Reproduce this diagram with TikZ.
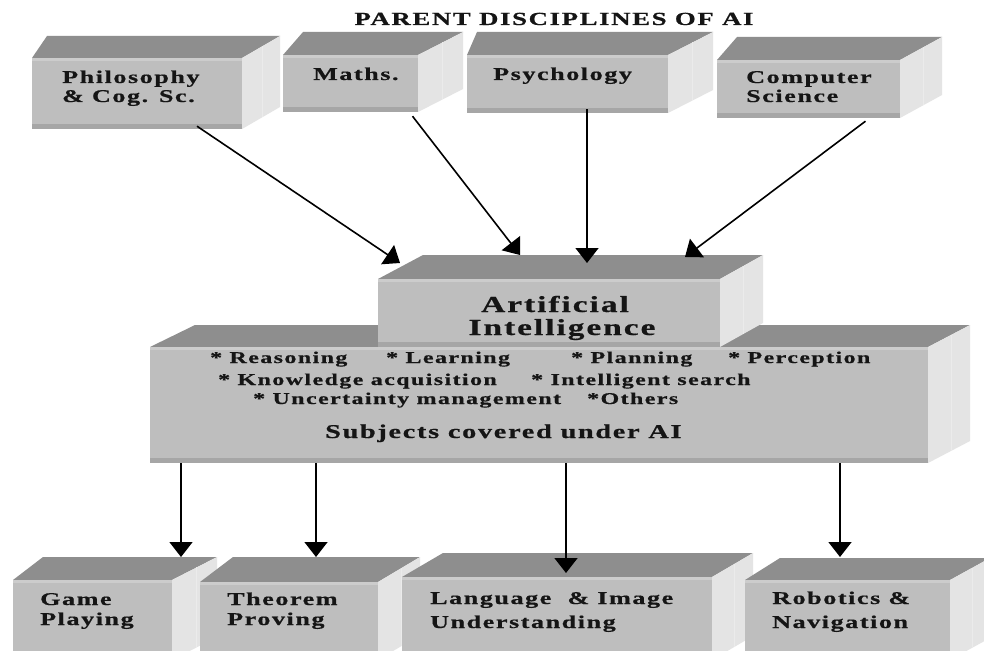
\documentclass[tikz,border=0pt]{standalone}
\usepackage{fontspec}
\newfontfamily\bxf[LetterSpace=6,BoldFeatures={FakeBold=0.5}]{Liberation Serif}
\usetikzlibrary{arrows.meta,fit,calc}
\definecolor{frc}{HTML}{BEBEBE}
\definecolor{topc}{HTML}{8E8E8E}
\definecolor{sidec}{HTML}{E4E4E4}
\definecolor{botc}{HTML}{A6A6A6}
\definecolor{hic}{HTML}{CCCCCC}
\definecolor{txt}{HTML}{151515}
\newcommand\sx[1]{\scalebox{1.45}[1]{#1}}
\tikzset{
  lbl/.style={anchor=base west, inner sep=0pt, text=txt, font=\bxf\bfseries\fontsize{18}{21}\selectfont},
  lst/.style={anchor=base west, inner sep=0pt, text=txt, font=\bxf\bfseries\fontsize{16.5}{19}\selectfont},
  ailbl/.style={anchor=base, inner sep=0pt, text=txt, font=\bxf\bfseries\fontsize{23}{27}\selectfont},
  arr/.style={line width=1.6pt, -{Triangle[width=23pt,length=15pt]}},
}
\newcommand\mycube[8]{%
  \fill[topc] ({#2},{#3}) -- ({#4},{#3}) -- ({#4+#7},{#3-#8}) -- ({#2+#6},{#3-#8}) -- cycle;
  \fill[sidec] ({#4},{#3}) -- ({#4+#7},{#3-#8}) -- ({#4+#7},{#5-#8}) -- ({#4},{#5}) -- cycle;
  \draw[white!92!black, line width=1pt] ({#4+0.55*#7},{#3-0.55*#8}) -- ({#4+0.55*#7},{#5-0.55*#8});
  \node[fit={({#2},{#3})({#4},{#5})}, inner sep=0pt, fill=frc] (#1) {};
  \fill[botc] ({#2},{#5-5}) rectangle ({#4},{#5});
  \fill[hic] ({#2},{#3}) rectangle ({#4},{#3+3});
}
\begin{document}
\begin{tikzpicture}[x=1pt,y=-1pt]
\useasboundingbox (0,0) rectangle (984,650);
\clip (0,0) rectangle (984,650);
\fill[white] (0,0) rectangle (984,650);

\node[anchor=base, inner sep=0pt, text=txt, font=\bxf\bfseries\fontsize{18.5}{22}\selectfont] (title) at (554,25) {\sx{PARENT DISCIPLINES OF AI}};

% top row
\mycube{phil}{32}{58}{242}{129}{15}{38}{22}
\mycube{maths}{283}{55}{418}{112}{20}{45}{23}
\mycube{psych}{467}{55}{668}{113}{10}{45}{23}
\mycube{cs}{717}{60}{900}{118}{20}{42}{23}

\node[lbl] (t1a) at (62,83) {\sx{Philosophy}};
\node[lbl] (t1b) at (62,102) {\sx{\& Cog. Sc.}};
\node[lbl] (t2) at (313,80) {\sx{Maths.}};
\node[lbl] (t3) at (493,80) {\sx{Psychology}};
\node[lbl] (t4a) at (746,83) {\sx{Computer}};
\node[lbl] (t4b) at (746,102) {\sx{Science}};

% middle
\mycube{subj}{150}{347}{928}{463}{45}{42}{22}
\mycube{ai}{378}{279}{720}{347}{45}{43}{24}

\node[ailbl] (ai1) at (555,312) {\sx{Artificial}};
\node[ailbl] (ai2) at (562,335) {\sx{Intelligence}};

\node[lst] (l1) at (210,363) {\sx{* Reasoning}};
\node[lst] (l2) at (386,363) {\sx{* Learning}};
\node[lst] (l3) at (571,363) {\sx{* Planning}};
\node[lst] (l4) at (728,363) {\sx{* Perception}};
\node[lst] (l5) at (218,385) {\sx{* Knowledge acquisition}};
\node[lst] (l6) at (531,385) {\sx{* Intelligent search}};
\node[lst] (l7) at (253,404) {\sx{* Uncertainty management}};
\node[lst] (l8) at (587,404) {\sx{*Others}};
\node[anchor=base west, inner sep=0pt, text=txt, font=\bxf\bfseries\fontsize{19.5}{23}\selectfont] (sc) at (325,438) {\sx{Subjects covered under AI}};

% bottom row
\mycube{game}{13}{580}{172}{660}{30}{45}{23}
\mycube{thm}{200}{582}{378}{660}{33}{42}{25}
\mycube{lang}{402}{577}{712}{660}{41}{41}{24}
\mycube{robo}{745}{580}{950}{660}{35}{40}{22}

\node[lbl] (g1) at (40,605) {\sx{Game}};
\node[lbl] (g2) at (40,625) {\sx{Playing}};
\node[lbl] (h1) at (227,605) {\sx{Theorem}};
\node[lbl] (h2) at (227,625) {\sx{Proving}};
\node[lbl] (n1) at (430,604) {\sx{Language \ \& Image}};
\node[lbl] (n2) at (430,628) {\sx{Understanding}};
\node[lbl] (r1) at (772,604) {\sx{Robotics \&}};
\node[lbl] (r2) at (772,628) {\sx{Navigation}};

% arrow tips
\coordinate (tp1) at (400,263);
\coordinate (tp2) at (520,255);
\coordinate (tp3) at (587,263);
\coordinate (tp4) at (685,257);
\coordinate (tb1) at (181,557);
\coordinate (tb2) at (316,557);
\coordinate (tb3) at (566,573);
\coordinate (tb4) at (840,557);

\draw[arr] ([xshift=60pt,yshift=3pt]phil.south) -- (tp1);
\draw[arr] ([xshift=62pt,yshift=-4pt]maths.south) -- (tp2);
\draw[arr] ([xshift=19.5pt,yshift=4pt]psych.south) -- (tp3);
\draw[arr] ([xshift=57pt,yshift=-3pt]cs.south) -- (tp4);

\draw[arr] (subj.south -| tb1) -- (tb1);
\draw[arr] (subj.south -| tb2) -- (tb2);
\draw[arr] (subj.south -| tb3) -- (tb3);
\draw[arr] (subj.south -| tb4) -- (tb4);
\end{tikzpicture}
\end{document}
